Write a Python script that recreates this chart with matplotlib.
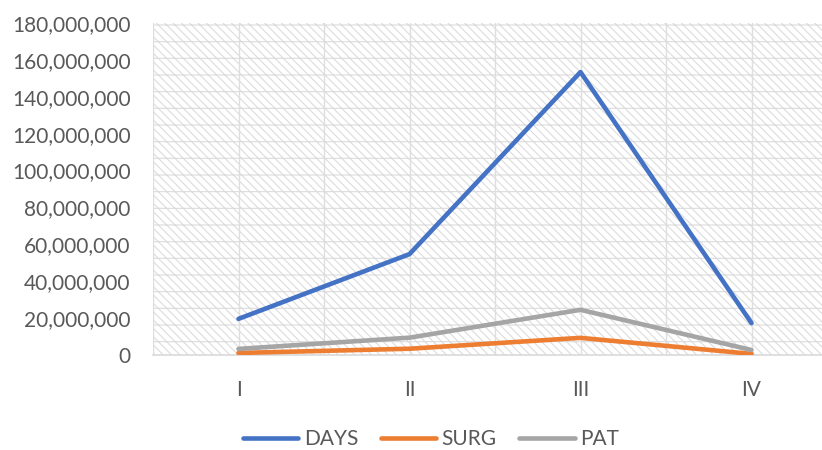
import matplotlib.pyplot as plt
from matplotlib.ticker import FuncFormatter

stages = ['I', 'II', 'III', 'IV']
days = [19600000, 54700000, 153400000, 17300000]
surg = [1100000, 3400000, 9300000, 600000]
pat = [3300000, 9400000, 24500000, 2700000]

plt.rcParams['font.family'] = ['Lato', 'DejaVu Sans']
plt.rcParams['hatch.linewidth'] = 0.8
plt.rcParams['hatch.color'] = '#dcdcdc'

fig = plt.figure(figsize=(8.22, 4.5), dpi=100)
# plot area runs past the right edge, as in the original (cropped) picture
ax = fig.add_axes([153 / 822, 1 - 355 / 450, 684 / 822, 332 / 450])

ax.patch.set_facecolor('white')
ax.patch.set_hatch('\\\\\\\\-')
ax.patch.set_edgecolor('#dcdcdc')

x = list(range(1, len(stages) + 1))
for i in range(9):
    ax.axvline(0.5 + i * 0.5, color='#dedede', lw=1.0, zorder=1)

ax.plot(x, days, color='#4472C4', lw=3.3, label='DAYS', solid_capstyle='round', zorder=3)
ax.plot(x, surg, color='#ED7D31', lw=3.3, label='SURG', solid_capstyle='round', zorder=3)
ax.plot(x, pat, color='#A5A5A5', lw=3.3, label='PAT', solid_capstyle='round', zorder=3)

ax.set_xlim(0.5, 4.5)
ax.set_ylim(0, 180000000)
ax.set_yticks(range(0, 180000001, 20000000))
ax.yaxis.set_major_formatter(FuncFormatter(lambda v, p: f'{int(v):,}'))
ax.set_xticks(x)
ax.set_xticklabels(stages)
ax.tick_params(axis='y', length=0, pad=16, labelsize=15, labelcolor='#595959')
ax.tick_params(axis='x', length=0, pad=18, labelsize=15, labelcolor='#595959')

for s in ['top', 'right', 'left']:
    ax.spines[s].set_visible(False)
ax.spines['bottom'].set_color('#d9d9d9')
ax.spines['bottom'].set_linewidth(1.2)

leg = fig.legend(loc='center', bbox_to_anchor=(431 / 822, 1 - 439 / 450), ncol=3,
                 frameon=False, fontsize=15, handlelength=2.65, handletextpad=0.25,
                 columnspacing=1.1)
for t in leg.get_texts():
    t.set_color('#595959')

fig.savefig('out.png', dpi=100)
